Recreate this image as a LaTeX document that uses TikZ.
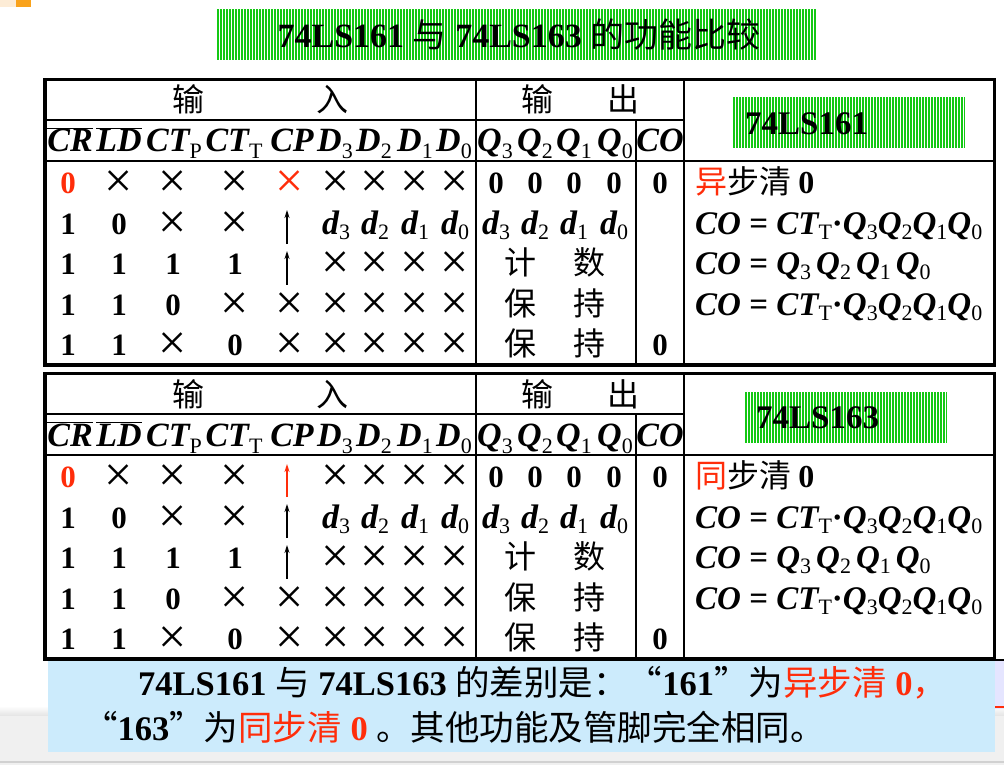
\documentclass[tikz,border=0pt]{standalone}
\usepackage{fontspec}
\setmainfont{Liberation Serif}
\newfontfamily\cjk{Noto Sans CJK SC}
\usetikzlibrary{arrows.meta,patterns}
\definecolor{hot}{RGB}{255,45,10}
\definecolor{lime}{RGB}{20,200,20}
\definecolor{sky}{RGB}{204,235,252}
\definecolor{peach}{RGB}{253,236,214}
\definecolor{tab}{RGB}{249,162,27}
\newcommand{\X}{{\mdseries\fontsize{50}{50}\selectfont\raisebox{-4pt}{×}}}
\newcommand{\sbh}[1]{\raisebox{-7pt}{\fontsize{22}{22}\selectfont\mdseries\upshape #1}}
\newcommand{\fsb}[1]{\raisebox{-5pt}{\fontsize{22}{22}\selectfont\mdseries\upshape #1}}
\newcommand{\dd}[1]{{\itshape\fontsize{34}{34}\selectfont d\fsb{#1}}}
\newcommand{\ov}[1]{$\overline{\hbox{#1}}$}
\newcommand{\fntable}[2]{%
  \draw[grid ] (476, 79.5) -- (476,365);
  \draw[grid ] (684, 79.5) -- (684,365);
  \draw[grid ] (636,120  ) -- (636,365);
  \draw[grid ] ( 45,120  ) -- (684,120);
  \draw[grid ] ( 45,161  ) -- (994.5,161);
  \draw[frame] ( 45, 79.5) rectangle (994.5,365);
  % heading
  \node[han] (#1in1)  at (188,112) {输};
  \node[han] (#1in2)  at (332,112) {入};
  \node[han] (#1out1) at (537,112) {输};
  \node[han] (#1out2) at (623,112) {出};
  \foreach \x/\t [count=\i] in {70/{\ov{CR}},119/{\ov{LD}},174/{CT\sbh{P}},234/{CT\sbh{T}},
      292/CP,335/{D\sbh{3}},374/{D\sbh{2}},415/{D\sbh{1}},454/{D\sbh{0}},
      495/{Q\sbh{3}},535/{Q\sbh{2}},574/{Q\sbh{1}},615/{Q\sbh{0}},660/CO}
    \node[head] (#1h\i) at (\x,152) {\t};
  % rows
  \node[cell,text=hot] (#1r1c0) at (68,193.5) {0};
  \foreach \x/\v [count=\i] in {119/\X,173/\X,235/\X,336/\X,375/\X,415/\X,455/\X,
      496/0,535/0,574/0,614/0,660/0}
    \node[cell] (#1r1c\i) at (\x,193.5) {\v};
  \foreach \x/\v [count=\i] in {68/1,119/0,173/\X,235/\X,336/\dd3,375/\dd2,415/\dd1,455/\dd0,
      496/\dd3,535/\dd2,574/\dd1,614/\dd0}
    \node[cell] (#1r2c\i) at (\x,234) {\v};
  \foreach \x/\v [count=\i] in {68/1,119/1,173/1,235/1,336/\X,375/\X,415/\X,455/\X}
    \node[cell] (#1r3c\i) at (\x,274.5) {\v};
  \foreach \x/\v [count=\i] in {68/1,119/1,173/0,235/\X,290/\X,336/\X,375/\X,415/\X,455/\X}
    \node[cell] (#1r4c\i) at (\x,315) {\v};
  \foreach \x/\v [count=\i] in {68/1,119/1,173/\X,235/0,290/\X,336/\X,375/\X,415/\X,455/\X,660/0}
    \node[cell] (#1r5c\i) at (\x,355.5) {\v};
  \draw[cpup] (287,244  ) -- (287,210);
  \draw[cpup] (287,284.5) -- (287,251);
  \node[han] (#1cnt1)  at (520,274.5) {计};
  \node[han] (#1cnt2)  at (589,274.5) {数};
  \node[han] (#1hold1) at (520,315  ) {保};
  \node[han] (#1hold2) at (589,315  ) {持};
  \node[han] (#1hold3) at (520,355.5) {保};
  \node[han] (#1hold4) at (589,355.5) {持};
  % right column
  \node[han,anchor=base west] (#1co1) at (695,193.5)
    {\textcolor{hot}{#2}步清 {\rmfamily\bfseries 0}};
  \node[rline] (#1co2) at (695,234  ) {CO {\upshape =} CT\fsb{T}{\upshape ·}Q\fsb{3}Q\fsb{2}Q\fsb{1}Q\fsb{0}};
  \node[rline] (#1co3) at (695,274.5) {CO {\upshape =} Q\fsb{3}\hspace{5pt}Q\fsb{2}\hspace{5pt}Q\fsb{1}\hspace{5pt}Q\fsb{0}};
  \node[rline] (#1co4) at (695,315  ) {CO {\upshape =} CT\fsb{T}{\upshape ·}Q\fsb{3}Q\fsb{2}Q\fsb{1}Q\fsb{0}};
}

\tikzset{
  frame/.style={line width=3.2pt},
  grid/.style={line width=1.3pt},
  cell/.style={anchor=base,inner sep=0pt,font=\bfseries\fontsize{31}{31}\selectfont},
  head/.style={anchor=base,inner sep=0pt,font=\bfseries\itshape\fontsize{34}{34}\selectfont},
  han/.style={anchor=base,inner sep=0pt,font=\cjk\fontsize{32}{32}\selectfont},
  rline/.style={anchor=base west,inner sep=0pt,font=\bfseries\itshape\fontsize{33}{33}\selectfont},
  cpup/.style={line width=1.2pt,-{Stealth[length=8pt,width=5pt]}},
  stripes/.style={pattern=vertical lines,pattern color=white},
  note/.style={anchor=base west,inner sep=0pt,font=\bfseries\fontsize{34.5}{34.5}\selectfont}
}

\begin{document}
\begin{tikzpicture}[x=1pt,y=-1pt]
  \useasboundingbox (0,0) rectangle (1004,765);
  \fill[white] (0,0) rectangle (1004,765);
  \fill[peach] (0,0) rectangle (16,7);
  \fill[tab  ] (16,0) rectangle (31,7);
  % bottom band
  \shade[top color=white,bottom color=black!11] (0,706) rectangle (1004,716);
  \fill[black!6] (0,716) rectangle (1004,765);
  \draw[black!18,line width=1.5pt] (0,762) -- (1004,762);
  % title
  \fill[lime   ] (216,9) rectangle (817,60);
  \fill[stripes] (216,9) rectangle (817,60);
  \node[anchor=base,inner sep=0pt,font=\bfseries\fontsize{34}{34}\selectfont] (title) at (519,48)
    {74LS161 {\cjk\mdseries 与} 74LS163 {\cjk\mdseries 的功能比较}};
  % 74LS161
  \fntable{a}{异}
  \node[cell,text=hot] (aCP) at (290,193.5) {\X};
  \fill[lime   ] (733,97) rectangle (965,148);
  \fill[stripes] (733,97) rectangle (965,148);
  \node[anchor=base west,inner sep=0pt,font=\bfseries\fontsize{33}{33}\selectfont] (aname) at (745,135) {74LS161};
  % 74LS163
  \begin{scope}[shift={(0,294)}]
    \fntable{b}{同}
    \draw[cpup,hot,line width=2pt] (287,203) -- (287,170);
    \fill[lime   ] (744,98) rectangle (947,149);
    \fill[stripes] (744,98) rectangle (947,149);
    \node[anchor=base west,inner sep=0pt,font=\bfseries\fontsize{33}{33}\selectfont] (bname) at (756,134) {74LS163};
  \end{scope}
  % difference
  \fill[blue!10] (995,660) rectangle (1004,709);
  \draw[hot,line width=1.5pt] (995,707) -- (1004,707);
  \draw[line width=1.5pt] (994,660) -- (1004,660);
  \fill[sky] (48,661) rectangle (995,752);
  \node[note] (note1) at (138,695)
    {74LS161 {\cjk\mdseries 与} 74LS163 {\cjk\mdseries 的差别是：“}161{\cjk\mdseries ”为}\textcolor{hot}{{\cjk\mdseries 异步清} 0{\cjk\mdseries ，}}};
  \node[note] (note2) at (83,740)
    {{\cjk\mdseries “}163{\cjk\mdseries ”为}\textcolor{hot}{{\cjk\mdseries 同步清} 0} {\cjk\mdseries 。其他功能及管脚完全相同。}};
\end{tikzpicture}
\end{document}
